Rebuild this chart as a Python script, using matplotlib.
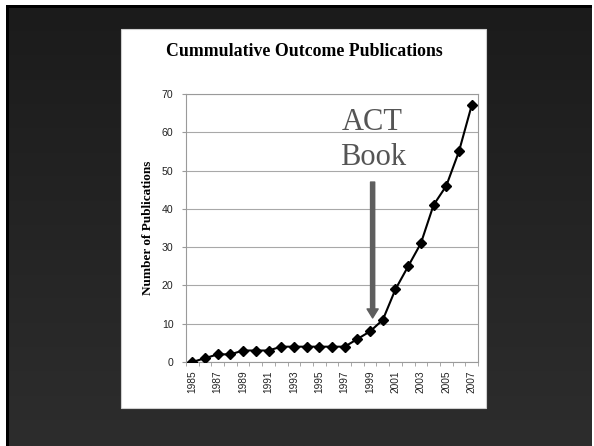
import numpy as np
import matplotlib
matplotlib.use('Agg')
import matplotlib.pyplot as plt
from matplotlib.patches import Rectangle

# data
years = list(range(1985, 2008))
pubs = [0, 1, 2, 2, 3, 3, 3, 4, 4, 4, 4, 4, 4, 6, 8, 11, 19, 25, 31, 41, 46, 55, 67]
tick_labels = [str(y) if (y - 1985) % 2 == 0 else '' for y in years]

W, H = 594, 446
fig = plt.figure(figsize=(W / 100, H / 100), dpi=100, facecolor='white')


def box(x0, y0, x1, y1):
    # pixel box (top-left origin) -> figure fraction rect
    return [x0 / W, 1 - y1 / H, (x1 - x0) / W, (y1 - y0) / H]


# dark slide background with a soft vertical gradient
bg = fig.add_axes([0, 0, 1, 1])
bg.set_xlim(0, W)
bg.set_ylim(H, 0)
bg.axis('off')
grad = np.linspace(0, 1, 200).reshape(-1, 1)
cmap = matplotlib.colors.LinearSegmentedColormap.from_list('slide', ['#1b1b1b', '#2d2d2d'])
bg.imshow(grad, cmap=cmap, extent=[6, 592, H, 5], aspect='auto')
bg.add_patch(Rectangle((6, 5), 586, 2.5, color='black', lw=0))
bg.add_patch(Rectangle((6, 5), 2.5, H - 5, color='black', lw=0))
bg.add_patch(Rectangle((121, 29), 365, 379, facecolor='white', edgecolor='#cfcfcf', lw=0.8))

fig.text(304 / W, 1 - 52 / H, 'Cummulative Outcome Publications', ha='center', va='center',
         family='Liberation Serif', fontweight='bold', fontsize=12.8, color='black')

ax = fig.add_axes(box(186, 94, 478, 362))
x = np.arange(len(years))
ax.plot(x, pubs, color='black', lw=1.5, marker='D', markersize=5.5, zorder=3)

ax.set_xlim(-0.5, len(years) - 0.5)
ax.set_ylim(0, 70)
ax.set_yticks(range(0, 71, 10))
ax.yaxis.grid(True, color='#a8a8a8', lw=0.8)
ax.set_axisbelow(True)
for s in ax.spines.values():
    s.set_color('#9a9a9a')
    s.set_linewidth(0.8)

ax.set_xticks(x)
ax.set_xticklabels(tick_labels, rotation=90, family='Liberation Sans', fontsize=7.3,
                   color='#222222')
ax.set_xticks(np.arange(-0.5, len(years)), minor=True)
ax.tick_params(axis='x', which='major', length=0, pad=6)
ax.tick_params(axis='x', which='minor', length=3, color='#9a9a9a')
ax.tick_params(axis='y', length=3, color='#9a9a9a', pad=6)
for lbl in ax.get_yticklabels():
    lbl.set_family('Liberation Sans')
    lbl.set_fontsize(7.6)
    lbl.set_color('#222222')

ax.set_ylabel('Number of Publications', family='Liberation Serif', fontweight='bold',
              fontsize=9.5, labelpad=6)

ax.text(14.2, 62.5, 'ACT', ha='center', va='center', family='Liberation Serif',
        fontsize=22, color='#555555')
ax.text(14.2, 53.5, 'Book', ha='center', va='center', family='Liberation Serif',
        fontsize=22, color='#555555')
ax.annotate('', xy=(14.2, 11.5), xytext=(14.2, 47),
            arrowprops=dict(arrowstyle='simple,head_width=0.8,head_length=0.65,tail_width=0.3',
                            mutation_scale=10, color='#5e5e5e', shrinkA=0, shrinkB=0))

fig.savefig('out.png', dpi=100, facecolor='white')
